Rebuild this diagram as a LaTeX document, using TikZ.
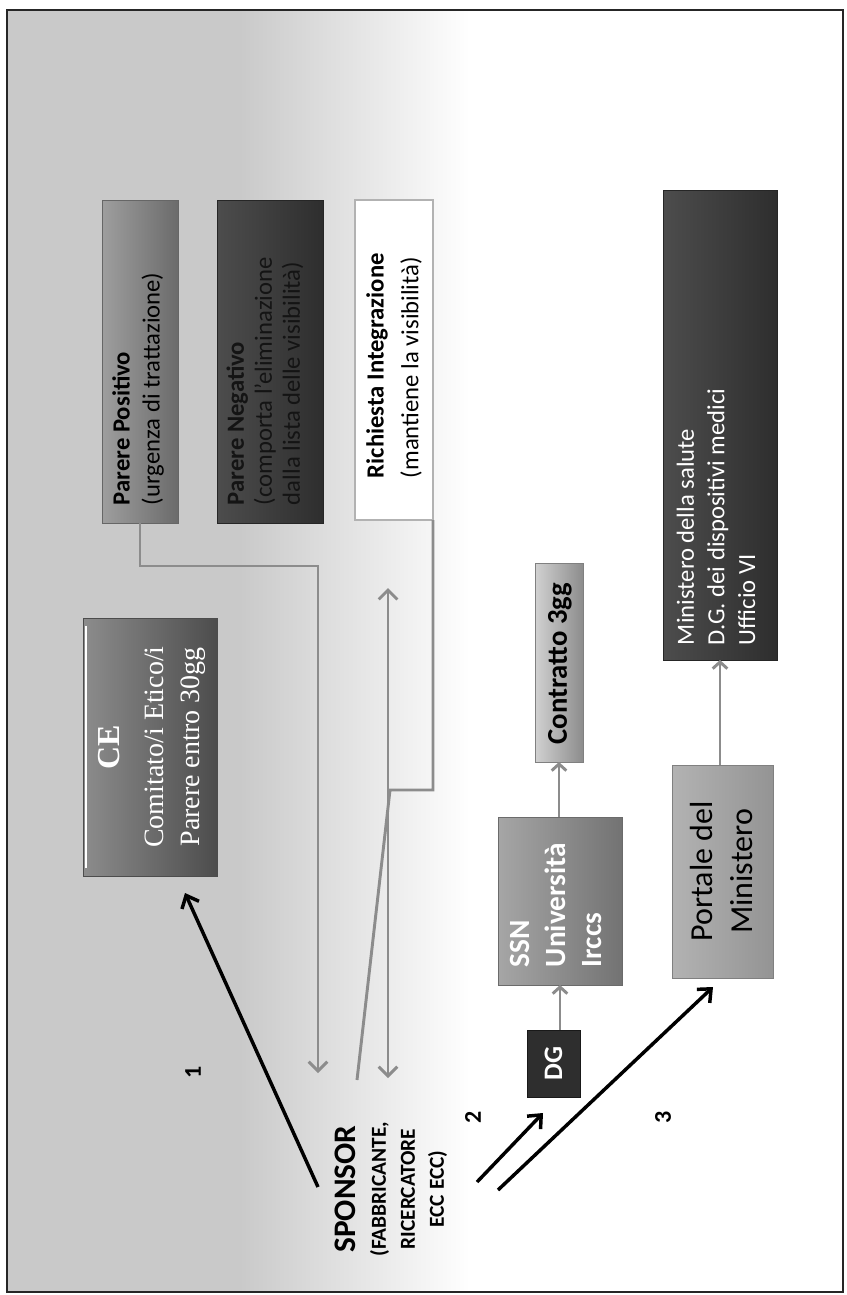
\documentclass[tikz,border=0pt]{standalone}
\usepackage{fontspec}
\setmainfont{Carlito}
\newfontfamily\cefont{Liberation Serif}
\usetikzlibrary{arrows.meta}
\definecolor{bggray}{HTML}{C9C9C9}
\definecolor{linegray}{HTML}{8C8C8C}
\tikzset{
  box/.style={inner sep=0pt, outer sep=0pt},
  txt/.style={rotate=90, inner sep=0pt, outer sep=0pt},
  gline/.style={draw=linegray, line width=2.2pt},
  garrow/.style={gline, -{Straight Barb[length=7pt,width=14pt]}},
  gdarrow/.style={gline, {Straight Barb[length=7pt,width=14pt]}-{Straight Barb[length=7pt,width=14pt]}},
  sarrow/.style={gline, -{Straight Barb[length=5pt,width=11pt]}},
  barrow/.style={draw=black, line width=2.6pt, -{Straight Barb[length=8pt,width=14pt]}},
  numlbl/.style={txt, font=\fontsize{18}{20}\selectfont\bfseries},
}
\begin{document}
\begin{tikzpicture}[x=0.75pt,y=-0.75pt]
\useasboundingbox (0,0) rectangle (846,1295);
% background
\fill[white] (7,10) rectangle (843,1292);
\fill[bggray] (7,10) rectangle (240,1292);
\shade[left color=bggray, right color=white] (239,10) rectangle (470,1292);
\draw[line width=2.2pt, black!85] (7,10) rectangle (843,1292);

% boxes
\node[box, minimum width=57pt, minimum height=242.25pt, left color=black!38, right color=black!58, draw=black!60] (pp) at (140,361.5) {};
\node[box, minimum width=79.5pt, minimum height=242.25pt, left color=black!70, right color=black!82, draw=black!85] (pn) at (270,361.5) {};
\node[box, minimum width=58.5pt, minimum height=240pt, fill=white, draw=gray!60, line width=1pt] (ri) at (394,360) {};
\node[box, minimum width=100.5pt, minimum height=193.5pt, left color=black!45, right color=black!70, draw=black!70] (ce) at (150,747) {};
\draw[white, line width=1.8pt] (86,626) -- (86,868);
\node[box, minimum width=36pt, minimum height=149.25pt, left color=black!18, right color=black!45, draw=black!50] (co) at (559,662.5) {};
\node[box, minimum width=93pt, minimum height=126pt, left color=black!35, right color=black!55, draw=black!58] (ssn) at (560,901) {};
\node[box, minimum width=39.75pt, minimum height=50.25pt, fill=black!82, draw=black!90] (dg) at (553.5,1063.5) {};
\node[box, minimum width=75.75pt, minimum height=159.75pt, left color=black!30, right color=black!42, draw=black!50] (po) at (722.5,871.5) {};
\node[box, minimum width=85.5pt, minimum height=352.5pt, left color=black!70, right color=black!82, draw=black!85] (mi) at (720,425) {};

% texts
\node[txt, anchor=west, align=left, font=\fontsize{18.5}{22.5}\selectfont] (tpp) at (138,505)
  {\textbf{Parere Positivo}\\(urgenza di trattazione)};
\node[txt, anchor=west, align=left, text=black!92, font=\fontsize{18.5}{21}\selectfont] (tpn) at (265,505)
  {\textbf{Parere Negativo}\\(comporta l'eliminazione\\dalla lista delle visibilità)};
\node[txt, anchor=west, align=left, font=\fontsize{18.5}{26}\selectfont] (tri) at (394,478)
  {\textbf{Richiesta Integrazione}\\(mantiene la visibilità)};
\node[txt, align=center, text=white, font=\cefont\fontsize{21}{27}\selectfont] (tce) at (152,747)
  {{\fontsize{24}{27}\selectfont\bfseries CE}\\[6pt]Comitato/i Etico/i\\Parere entro 30gg};
\node[txt, font=\fontsize{21.5}{24}\selectfont\bfseries] (tco) at (560,663.5) {Contratto 3gg};
\node[txt, anchor=west, align=left, text=white, font=\fontsize{22}{27}\selectfont\bfseries] (tssn) at (556,967)
  {SSN\\Università\\Irccs};
\node[txt, text=white, font=\fontsize{20}{22}\selectfont\bfseries] (tdg) at (553.5,1063.5) {DG};
\node[txt, align=center, font=\fontsize{24}{30}\selectfont] (tpo) at (721,871.5) {Portale del\\Ministero};
\node[txt, anchor=west, align=left, text=white, font=\fontsize{18.5}{23}\selectfont] (tmi) at (716,645)
  {Ministero della salute\\D.G. dei dispositivi medici\\Ufficio VI};
\node[txt, align=center, font=\fontsize{16}{21.75}\selectfont\bfseries] (tsp) at (391,1189)
  {{\fontsize{23.5}{24}\selectfont SPONSOR}\\[1pt](FABBRICANTE,\\RICERCATORE\\ECC ECC)};
\node[numlbl] (l1) at (193,1072) {1};
\node[numlbl] (l2) at (473,1117) {2};
\node[numlbl] (l3) at (663,1117) {3};

% connector endpoints
\coordinate (e1) at (318,1073);
\coordinate (d1) at (388,588);
\coordinate (d2) at (388,1078);
\coordinate (r1) at (390,790);
\coordinate (r2) at (357,1080);
\coordinate (s1) at (318,1187);
\coordinate (t1) at (185,893);
\coordinate (s2) at (477,1182);
\coordinate (t2) at (543,1113);
\coordinate (s3) at (498,1190);
\coordinate (t3) at (713,987);

% gray connectors
\draw[garrow] (pp.south) -- ++(0,43) -| (e1);
\draw[gdarrow] (d1) -- (d2);
\draw[gline] (ri.south east) |- (r1) -- (r2);
\draw[sarrow] (dg.north -| ssn.south) -- (ssn.south);
\draw[sarrow] (ssn.north -| co.south) -- (co.south);
\draw[sarrow] (po.north -| mi.south) -- (mi.south);

% black arrows
\draw[barrow] (s1) -- (t1);
\draw[barrow] (s2) -- (t2);
\draw[barrow] (s3) -- (t3);
\end{tikzpicture}
\end{document}
